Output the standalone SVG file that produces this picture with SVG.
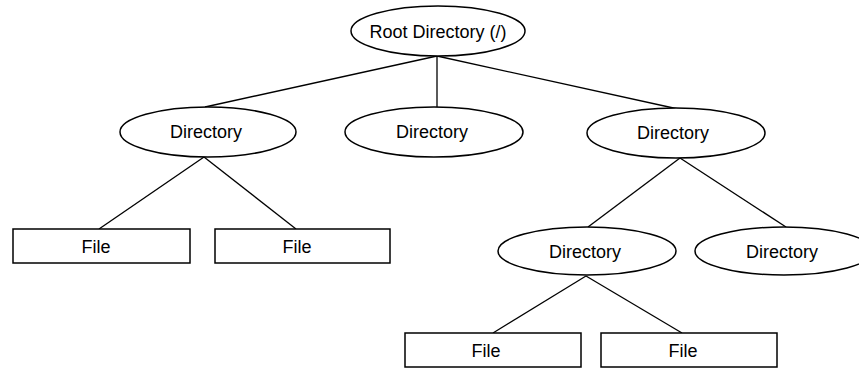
<svg xmlns="http://www.w3.org/2000/svg" width="859" height="371" viewBox="0 0 859 371">
<style>
.n ellipse,.n rect{fill:#fff;stroke:#000;stroke-width:1.5}
.n text{font-family:"Liberation Sans",Arial,sans-serif;font-size:18px;fill:#000;text-anchor:middle;dominant-baseline:central}
#edges line{stroke:#000;stroke-width:1.3}
</style>
<rect width="859" height="371" fill="#fff"/>
<g id="edges">
<line x1="437" y1="56" x2="205" y2="107"/>
<line x1="437" y1="56" x2="437" y2="107"/>
<line x1="437" y1="56" x2="678" y2="109"/>
<line x1="204" y1="157" x2="99" y2="229"/>
<line x1="204" y1="157" x2="296" y2="229"/>
<line x1="680" y1="158" x2="588" y2="227"/>
<line x1="680" y1="158" x2="786" y2="227"/>
<line x1="586" y1="276" x2="493" y2="333"/>
<line x1="586" y1="276" x2="682" y2="333"/>
</g>
<g id="root" class="n"><ellipse cx="438" cy="31" rx="87" ry="25"/><text x="438" y="32">Root Directory (/)</text></g>
<g id="dir1" class="n"><ellipse cx="208" cy="132" rx="88" ry="25"/><text x="206" y="132">Directory</text></g>
<g id="dir2" class="n"><ellipse cx="434" cy="132" rx="89" ry="25"/><text x="432" y="132">Directory</text></g>
<g id="dir3" class="n"><ellipse cx="676" cy="133" rx="89" ry="25"/><text x="673" y="133">Directory</text></g>
<g id="file1" class="n"><rect x="13" y="229" width="177" height="34"/><text x="96" y="247">File</text></g>
<g id="file2" class="n"><rect x="215" y="229" width="175" height="34"/><text x="297" y="247">File</text></g>
<g id="dir4" class="n"><ellipse cx="587" cy="251" rx="89" ry="24"/><text x="585" y="252">Directory</text></g>
<g id="dir5" class="n"><ellipse cx="784" cy="251" rx="89" ry="24"/><text x="782" y="252">Directory</text></g>
<g id="file3" class="n"><rect x="405" y="333" width="176" height="34"/><text x="486" y="351">File</text></g>
<g id="file4" class="n"><rect x="601" y="333" width="176" height="34"/><text x="683" y="351">File</text></g>
</svg>
